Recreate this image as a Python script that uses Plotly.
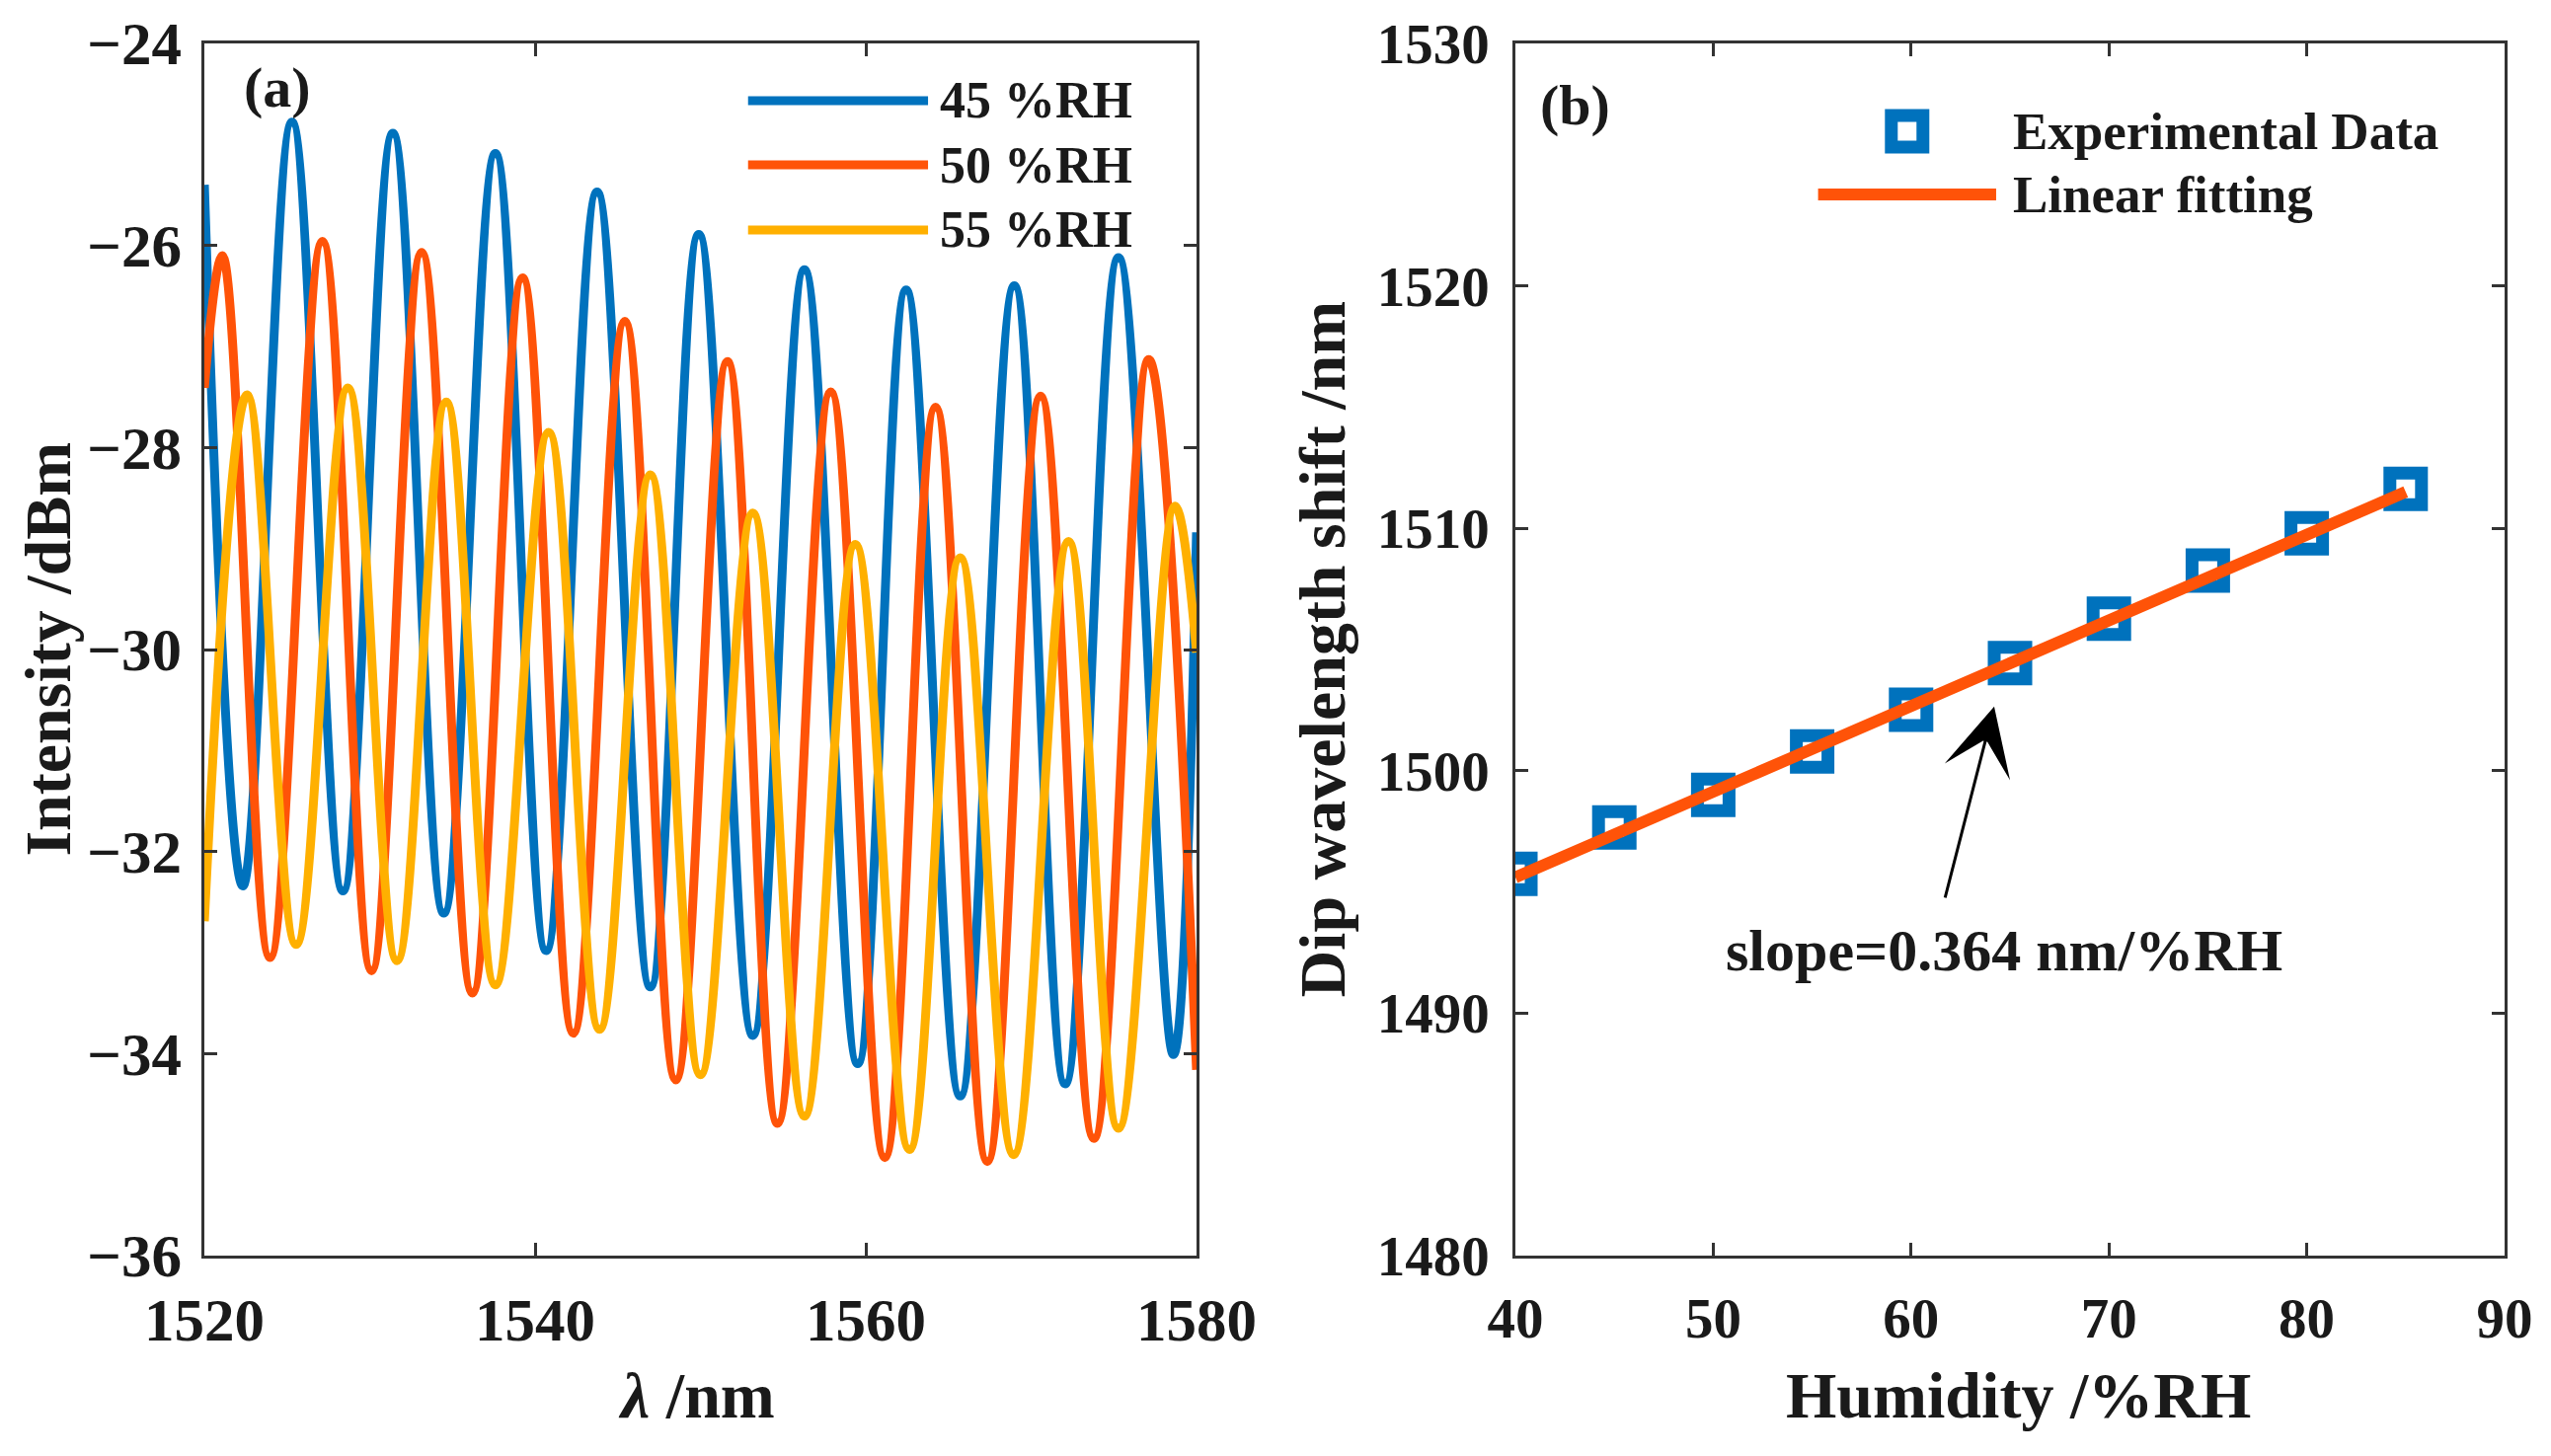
import plotly.graph_objects as go

# (a) spectra: peaks/dips, wavelength (nm) / intensity (dBm)
wl_45 = [1520.0, 1522.33, 1525.30, 1528.38, 1531.40, 1534.48, 1537.60, 1540.67, 1543.75, 1546.97,
         1549.90, 1553.17, 1556.29, 1559.51, 1562.44, 1565.71, 1568.98, 1572.06, 1575.28, 1578.60, 1580.0]
int_45 = [-25.40, -32.34, -24.78, -32.39, -24.89, -32.61, -25.09, -32.98, -25.47, -33.34,
          -25.89, -33.82, -26.24, -34.10, -26.44, -34.42, -26.40, -34.30, -26.12, -34.01, -28.84]

wl_50 = [1520.0, 1521.09, 1523.97, 1527.14, 1530.11, 1533.14, 1536.21, 1539.24, 1542.31, 1545.43,
         1548.51, 1551.63, 1554.66, 1557.88, 1561.15, 1564.22, 1567.35, 1570.57, 1573.79, 1577.11, 1580.0]
int_50 = [-27.41, -26.10, -33.05, -25.96, -33.18, -26.07, -33.40, -26.32, -33.80, -26.75,
          -34.26, -27.15, -34.69, -27.45, -35.03, -27.60, -35.07, -27.49, -34.84, -27.13, -34.16]

wl_55 = [1520.0, 1522.58, 1525.55, 1528.68, 1531.65, 1534.63, 1537.60, 1540.82, 1543.90, 1546.97,
         1550.00, 1553.17, 1556.29, 1559.37, 1562.64, 1565.71, 1568.94, 1572.26, 1575.28, 1578.70, 1580.0]
int_55 = [-32.69, -27.48, -32.92, -27.41, -33.08, -27.55, -33.32, -27.85, -33.76, -28.27,
          -34.21, -28.65, -34.62, -28.96, -34.95, -29.09, -35.00, -28.93, -34.74, -28.58, -30.03]

spectra_labels = ['45 %RH', '50 %RH', '55 %RH']

# (b) dip wavelength vs humidity
humidity = [40, 45, 50, 55, 60, 65, 70, 75, 80, 85]
dip_wl = [1495.75, 1497.66, 1499.00, 1500.80, 1502.52, 1504.44, 1506.27, 1508.26, 1509.79, 1511.63]
fit_x = [40, 85]
fit_y = [1495.6, 1511.5]
slope_text = 'slope=0.364 nm/%RH'

BLUE = '#0072BD'
ORANGE = '#FF5308'
YELLOW = '#FFB000'
AX = '#333333'
TXT = '#1a1a1a'
FONT = 'Liberation Serif'

W, H = 2584, 1475

fig = go.Figure()

for xs, ys, col in [(wl_45, int_45, BLUE), (wl_50, int_50, ORANGE), (wl_55, int_55, YELLOW)]:
    fig.add_trace(go.Scatter(x=xs, y=ys, mode='lines',
                             line=dict(color=col, width=9, shape='spline', smoothing=1.1),
                             xaxis='x', yaxis='y', showlegend=False))

fig.add_trace(go.Scatter(x=humidity, y=dip_wl, mode='markers',
                         marker=dict(symbol='square-open', size=32, color=BLUE,
                                     line=dict(width=13, color=BLUE)),
                         xaxis='x2', yaxis='y2', showlegend=False))
fig.add_trace(go.Scatter(x=fit_x, y=fit_y, mode='lines',
                         line=dict(color=ORANGE, width=12),
                         xaxis='x2', yaxis='y2', showlegend=False))

axis_style = dict(showline=True, mirror='ticks', linecolor=AX, linewidth=2.5,
                  ticks='inside', ticklen=13, tickwidth=2.5, tickcolor=AX,
                  showgrid=False, zeroline=False, automargin=False)
left_ticks = dict(family=FONT, size=61, color=TXT, weight='bold')
right_ticks = dict(family=FONT, size=57, color=TXT, weight='bold')

ydom = [(H - 1272) / H, (H - 44) / H]
fig.update_layout(
    width=W, height=H, autosize=False,
    margin=dict(l=0, r=0, t=0, b=0, pad=0),
    paper_bgcolor='white', plot_bgcolor='white',
    xaxis=dict(domain=[207 / W, 1212 / W], range=[1520, 1580], tickvals=[1520, 1540, 1560, 1580],
               anchor='y', ticklabelstandoff=10, tickfont=left_ticks, **axis_style),
    yaxis=dict(domain=ydom, range=[-36, -24], dtick=2, anchor='x', ticklabelstandoff=8,
               tickfont=left_ticks, **axis_style),
    xaxis2=dict(domain=[1535 / W, 2537 / W], range=[40, 90], dtick=10, anchor='y2',
                ticklabelstandoff=12, tickfont=right_ticks, **axis_style),
    yaxis2=dict(domain=ydom, range=[1480, 1530], dtick=10, anchor='x2', ticklabelstandoff=12,
                tickfont=right_ticks, **axis_style),
)

title_font = dict(family=FONT, size=66, color=TXT, weight='bold')
label_font = dict(family=FONT, size=52, color=TXT, weight='bold')


def note(text, xref, yref, x, y, font, xanchor='center', angle=0):
    return dict(text=text, xref=xref, yref=yref, x=x, y=y, xanchor=xanchor, yanchor='middle',
                textangle=angle, showarrow=False, font=font)


ann = [
    note('<i>λ</i> /nm', 'x domain', 'y domain', 0.4965, -0.1156, title_font),
    note('Intensity /dBm', 'x domain', 'y domain', -0.1586, 0.5, title_font, angle=-90),
    note('Humidity /%RH', 'x2 domain', 'y2 domain', 0.508, -0.1156, title_font),
    note('Dip wavelength shift /nm', 'x2 domain', 'y2 domain', -0.196, 0.5, title_font, angle=-90),
    note('(a)', 'x domain', 'y domain', 0.0733, 0.964, dict(family=FONT, size=58, color=TXT, weight='bold')),
    note('(b)', 'x2 domain', 'y2 domain', 0.06, 0.949, dict(family=FONT, size=58, color=TXT, weight='bold')),
    dict(x=64.2, y=1502.65, ax=61.7, ay=1494.7, xref='x2', yref='y2', axref='x2', ayref='y2',
         text='', showarrow=True, arrowhead=3, arrowwidth=3, arrowsize=3.8, arrowcolor='black'),
    note(slope_text, 'x2', 'y2', 64.7, 1492.6, dict(family=FONT, size=60, color=TXT, weight='bold')),
]

shapes = []
# legend (a)
leg_rows = [0.9528, 0.8998, 0.8461]
for lab, col, yy in zip(spectra_labels, [BLUE, ORANGE, YELLOW], leg_rows):
    shapes.append(dict(type='line', xref='x domain', yref='y domain', x0=0.548, x1=0.7294,
                       y0=yy, y1=yy, line=dict(color=col, width=9)))
    ann.append(note(lab, 'x domain', 'y domain', 0.739, yy, label_font, xanchor='left'))

# legend (b)
shapes.append(dict(type='rect', xref='x2 domain', yref='y2 domain', xsizemode='pixel', ysizemode='pixel',
                   xanchor=0.396, yanchor=0.9275, x0=-16, x1=16, y0=-16, y1=16,
                   line=dict(color=BLUE, width=13)))
shapes.append(dict(type='line', xref='x2 domain', yref='y2 domain', x0=0.306, x1=0.486,
                   y0=0.8754, y1=0.8754, line=dict(color=ORANGE, width=12)))
leg_font_b = dict(family=FONT, size=53, color=TXT, weight='bold')
ann.append(note('Experimental Data', 'x2 domain', 'y2 domain', 0.501, 0.9275, leg_font_b, xanchor='left'))
ann.append(note('Linear fitting', 'x2 domain', 'y2 domain', 0.501, 0.8754, leg_font_b, xanchor='left'))

fig.update_layout(annotations=ann, shapes=shapes)

# drop the default 8px page margin so the figure sits at the window's corner
fig.write_html("out.html", config={'displayModeBar': False},
               post_script="document.body.style.margin='0px';")
